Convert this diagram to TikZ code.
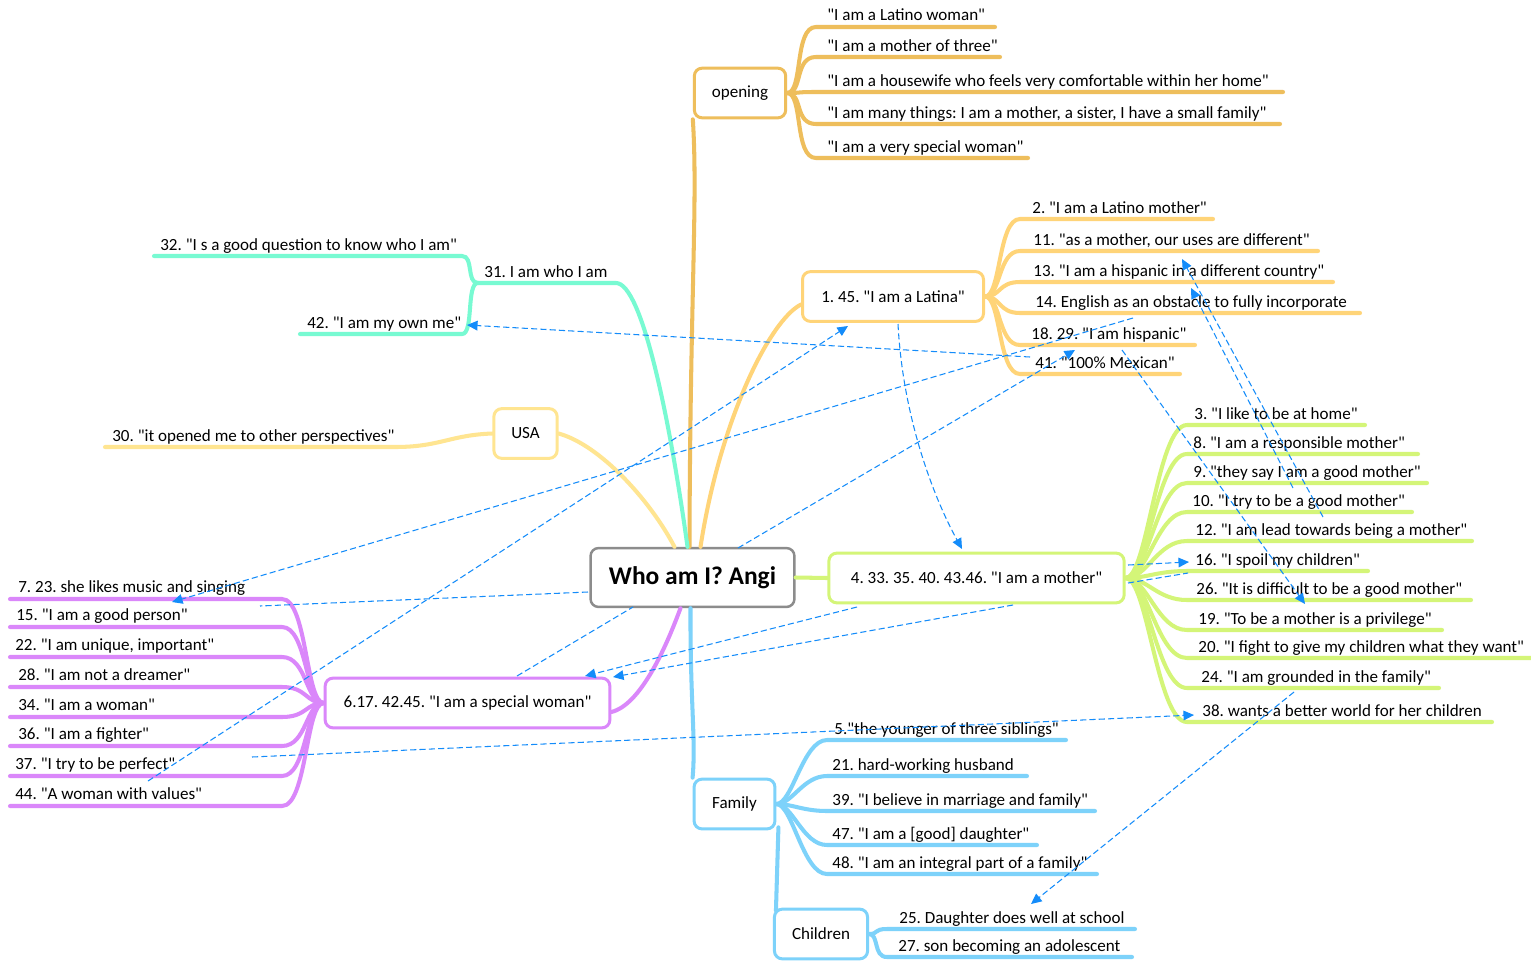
\documentclass[tikz,border=0pt]{standalone}
\usepackage{fontspec}
\setmainfont{Carlito}[Ligatures=TeXOff]
\usepackage{tikz}
\usetikzlibrary{arrows.meta, calc}
\frenchspacing
\definecolor{openorange}{RGB}{238,190,92}
\definecolor{latinaorange}{RGB}{255,212,120}
\definecolor{usayellow}{RGB}{255,229,145}
\definecolor{selfteal}{RGB}{120,250,210}
\definecolor{motherlime}{RGB}{212,245,120}
\definecolor{womanviolet}{RGB}{218,135,250}
\definecolor{familyblue}{RGB}{125,210,250}
\definecolor{relblue}{RGB}{20,140,250}
\definecolor{rootgray}{RGB}{140,140,140}

\tikzset{
  topic/.style={draw, line width=1.7pt, rounded corners=4.5pt, fill=white, inner sep=0pt,
    minimum height=28.3pt, font=\fontsize{9.7}{11}\selectfont},
  leaf/.style={anchor=base west, inner sep=0pt, font=\fontsize{9.7}{11}\selectfont},
  branch/.style={line width=2.3pt, line cap=round},
  rel/.style={relblue, line width=0.6pt, dash pattern=on 3.5pt off 1.8pt,
    -{Triangle[length=6pt,width=5.5pt]}},
  relplain/.style={relblue, line width=0.6pt, dash pattern=on 3.5pt off 1.8pt},
}

\begin{document}
\begin{tikzpicture}[x=0.2mm, y=-0.2mm]
    \useasboundingbox (0,0) rectangle (1531,961);
    \fill[white] (0,0) rectangle (1531,961);

    % ==== Topic boxes ====
    \node[topic, draw=rootgray, line width=1.4pt, minimum width=116pt, minimum height=33.5pt,
      font=\fontsize{14.5}{17}\selectfont\bfseries] (root) at (692.5,577.5) {Who am I? Angi};
    \node[topic, draw=openorange, minimum width=52pt] (opening) at (740,93) {opening};
    \node[topic, draw=latinaorange, minimum width=103pt] (latina) at (893,296.5) {1. 45. "I am a Latina"};
    \node[topic, draw=usayellow, minimum width=36pt] (usa) at (525.5,433.5) {USA};
    \node[topic, draw=motherlime, minimum width=168pt] (mother) at (976.5,578) {4. 33. 35. 40. 43.46. "I am a mother"};
    \node[topic, draw=womanviolet, minimum width=162pt] (special) at (467.5,703) {6.17. 42.45. "I am a special woman"};
    \node[topic, draw=familyblue, minimum width=46pt] (family) at (734.5,804) {Family};
    \node[topic, draw=familyblue, minimum width=53pt] (children) at (821,934) {Children};

    % ==== Branches from the root ====
    \draw[branch, openorange] ($(root.north)+(-3,0)$) .. controls (690,300) and (698,200) .. (opening.south west);
    \draw[branch, latinaorange] ($(root.north)+(8,0)$) .. controls (720,420) and (770,320) .. ($(latina.west)+(0,8)$);
    \draw[branch, selfteal] ($(root.north)+(-5,0)$) .. controls (670,420) and (642,283) .. (616,283) -- (478,283);
    \draw[branch, usayellow] ($(root.north)+(-18,0)$) .. controls (650,500) and (600,445) .. (usa.east);
    \draw[branch, motherlime] (root.east) -- (mother.west);
    \draw[branch, womanviolet] ($(root.south)+(-12,0)$) .. controls (665,650) and (640,705) .. ($(special.east)+(0,9)$);
    \draw[branch, familyblue] ($(root.south)+(-2,0)$) .. controls (690,700) and (696,740) .. (family.north west);
    \draw[branch, familyblue] ($(family.south east)+(2,-3)$) -- ($(children.north west)+(3,3)$);

    % ==== opening ====
    \foreach \y/\xe/\txt [count=\i] in {
        27/995/{"I am a Latino woman"},
        57/1000/{"I am a mother of three"},
        92/1283/{"I am a housewife who feels very comfortable within her home"},
        124/1280/{"I am many things: I am a mother, a sister, I have a small family"},
        158/1028/{"I am a very special woman"}}{
        \draw[branch, openorange] (opening.east) .. controls +(16,0) and +(-22,0) .. (816,\y) -- (\xe,\y);
        \node[leaf] (op\i) at (827,\y-6) {\txt};
    }

    % ==== Latina ====
    \foreach \y/\xe/\xt/\txt [count=\i] in {
        219/1213/1032/{2. "I am a Latino mother"},
        251/1318/1033/{11. "as a mother, our uses are different"},
        282/1333/1033/{13. "I am a hispanic in a different country"},
        313/1360/1035/{14. English as an obstacle to fully incorporate},
        345/1195/1031/{18. 29. "I am hispanic"},
        374/1180/1035/{41. "100\% Mexican"}}{
        \draw[branch, latinaorange] (latina.east) .. controls +(16,0) and +(-22,0) .. (1020,\y) -- (\xe,\y);
        \node[leaf] (lat\i) at (\xt,\y-6) {\txt};
    }

    % ==== who I am ====
    \node[leaf] (self) at (484,277) {31. I am who I am};
    \draw[branch, selfteal] (478,283) .. controls (466,283) and (474,256) .. (462,256) -- (154,256);
    \draw[branch, selfteal] (478,283) .. controls (466,283) and (474,334) .. (462,334) -- (300,334);
    \node[leaf] (self1) at (160,250) {32. "I s a good question to know who I am"};
    \node[leaf] (self2) at (307,328) {42. "I am my own me"};

    % ==== USA ====
    \draw[branch, usayellow] (usa.west) .. controls (450,435) and (440,447) .. (395,447) -- (105,447);
    \node[leaf] (usa1) at (112,441) {30. "it opened me to other perspectives"};

    % ==== mother ====
    \foreach \y/\xe/\xt/\txt [count=\i] in {
        425/1365/1194/{3. "I like to be at home"},
        454/1418/1193/{8. "I am a responsible mother"},
        483/1427/1193/{9. "they say I am a good mother"},
        512/1412/1192/{10. "I try to be a good mother"},
        541/1472/1195/{12. "I am lead towards being a mother"},
        571/1368/1195/{16. "I spoil my children"},
        600/1471/1196/{26. "It is difficult to be a good mother"},
        630/1442/1198/{19. "To be a mother is a privilege"},
        658/1531/1198/{20. "I fight to give my children what they want"},
        688/1439/1201/{24. "I am grounded in the family"},
        722/1492/1202/{38. wants a better world for her children}}{
        \draw[branch, motherlime] (mother.east) .. controls +(22,0) and +(-30,0) .. (1187,\y) -- (\xe,\y);
        \node[leaf] (mo\i) at (\xt,\y-6) {\txt};
    }

    % ==== special woman ====
    \foreach \y/\xt/\txt [count=\i] in {
        599/18/{7. 23. she likes music and singing},
        627/16/{15. "I am a good person"},
        657/15/{22. "I am unique, important"},
        687/18/{28. "I am not a dreamer"},
        717/18/{34. "I am a woman"},
        746/18/{36. "I am a fighter"},
        776/15/{37. "I try to be perfect"},
        806/15/{44. "A woman with values"}}{
        \draw[branch, womanviolet] (special.west) .. controls +(-18,0) and +(25,0) .. (282,\y) -- (10,\y);
        \node[leaf] (sw\i) at (\xt,\y-6.5) {\txt};
    }

    % ==== Family ====
    \foreach \y/\xe/\xt/\txt [count=\i] in {
        740/1066/834/{5."the younger of three siblings"},
        776/1027/832/{21. hard-working husband},
        811/1095/832/{39. "I believe in marriage and family"},
        845/1037/832/{47. "I am a [good] daughter"},
        874/1097/832/{48. "I am an integral part of a family"}}{
        \draw[branch, familyblue] (family.east) .. controls +(16,0) and +(-24,0) .. (827,\y) -- (\xe,\y);
        \node[leaf] (fa\i) at (\xt,\y-6) {\txt};
    }
    \foreach \y/\xe/\xt/\txt [count=\i] in {
        929/1135/899/{25. Daughter does well at school},
        957/1132/898/{27. son becoming an adolescent}}{
        \draw[branch, familyblue] (children.east) .. controls +(10,0) and +(-14,0) .. (887,\y) -- (\xe,\y);
        \node[leaf] (ch\i) at (\xt,\y-6) {\txt};
    }

    % ==== Relationships ====
    \draw[rel] (898,324) .. controls (903,420) and (935,500) .. (962,549);
    \draw[rel] (1030,357) -- (467,325);
    \draw[rel] (1133,318) -- (172,602);
    \draw[rel] (738,548) -- (1075,350);
    \draw[rel] (148,781) -- (848,326);
    \draw[relplain] (517,676) -- (633,607);
    \draw[relplain] (588,592) -- (260,606);
    \draw[rel] (857,607) -- (585,676);
    \draw[rel] (1013,605) -- (613,677);
    \draw[rel] (1128,565) -- (1189,562);
    \draw[relplain] (1128,583) -- (1188,573);
    \draw[rel] (252,757) -- (1194,715);
    \draw[rel] (1294,692) -- (1031,904);
    \draw[rel] (1293,488) -- (1191,288);
    \draw[rel] (1323,517) -- (1182,259);
    \draw[rel] (1122,350) -- (1305,604);
\end{tikzpicture}
\end{document}
